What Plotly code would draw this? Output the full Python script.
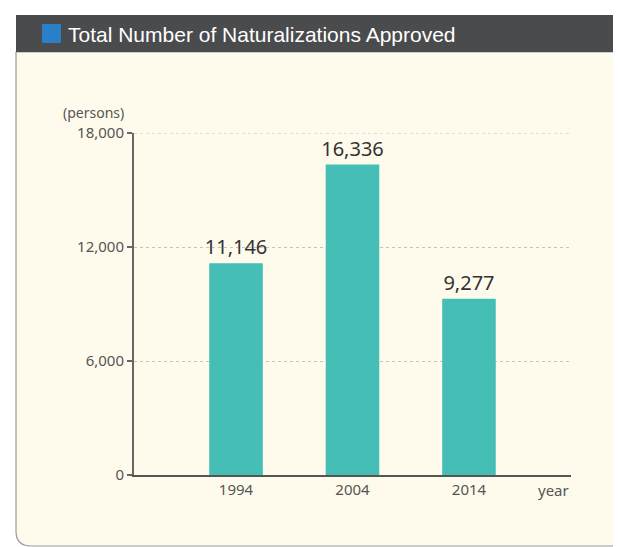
import plotly.graph_objects as go

years = ["1994", "2004", "2014"]
naturalizations = [11146, 16336, 9277]
y_ticks = [0, 6000, 12000, 18000]
y_tick_labels = ["0", "6,000", "12,000", "18,000"]
title_text = "Total Number of Naturalizations Approved"

OFF = 8  # page body margin
W, H = 621 - 2 * OFF, 547 - OFF
L, R, T, B = 134 - OFF, W - (571 - OFF), 133 - OFF, H - (475 - OFF)
pw, ph = W - L - R, H - T - B


def px(x):  # x in screenshot pixels -> paper
    return (x - OFF - L) / pw


def py(y):  # y in screenshot pixels -> paper
    return (H - B - (y - OFF)) / ph


fig = go.Figure()
fig.add_trace(go.Bar(
    x=years, y=naturalizations,
    marker=dict(color="#45bfb5", line=dict(width=0)),
    width=0.46,
    text=[f"{v:,}" for v in naturalizations],
    textposition="outside",
    constraintext="none",
    textfont=dict(size=20, color="#333333", family="Noto Sans"),
    cliponaxis=False,
    hoverinfo="skip",
))

lx, top, bot, rx = px(16), py(52), py(546), px(660)
rxr, ryr = 15 / pw, 15 / ph
panel_path = (f"M {lx},{top} L {lx},{bot + ryr} Q {lx},{bot} {lx + rxr},{bot} "
              f"L {rx},{bot} L {rx},{top} Z")
shapes = [
    dict(type="path", xref="paper", yref="paper", path=panel_path,
         fillcolor="#fffbec", line=dict(color="#9a9a9a", width=1.2), layer="below"),
    dict(type="rect", xref="paper", yref="paper", x0=px(16), x1=px(660),
         y0=py(52), y1=py(15), fillcolor="#4a4b4d", line=dict(width=0), layer="below"),
    dict(type="rect", xref="paper", yref="paper", x0=px(42), x1=px(61),
         y0=py(43), y1=py(24), fillcolor="#2a7fc9", line=dict(width=0), layer="below"),
    dict(type="line", xref="paper", yref="y", x0=0, x1=1,
         y0=y_ticks[-1], y1=y_ticks[-1],
         line=dict(color="#c4c4c4", width=1, dash="dot"), layer="below"),
]

annotations = [
    dict(text=title_text, xref="paper", yref="paper", x=px(66), y=py(34),
         xanchor="left", yanchor="middle", showarrow=False,
         font=dict(size=21, color="white", family="Liberation Sans")),
    dict(text="(persons)", xref="paper", yref="paper", x=px(126), y=py(112),
         xanchor="right", yanchor="middle", showarrow=False,
         font=dict(size=14, color="#555555", family="Noto Sans")),
    dict(text="year", xref="paper", yref="paper", x=px(553), y=py(490),
         xanchor="center", yanchor="middle", showarrow=False,
         font=dict(size=15, color="#555555", family="Noto Sans")),
]

fig.update_layout(
    width=W, height=H,
    margin=dict(l=L, r=R, t=T, b=B),
    paper_bgcolor="white",
    plot_bgcolor="rgba(0,0,0,0)",
    showlegend=False,
    shapes=shapes,
    annotations=annotations,
    xaxis=dict(
        type="category", range=[-0.876, 2.876],
        showline=True, linecolor="#555555", linewidth=1.5,
        ticks="", showgrid=False,
        tickfont=dict(size=15, color="#555555", family="Noto Sans"),
    ),
    yaxis=dict(
        range=[0, 18000], tickvals=y_ticks, ticktext=y_tick_labels,
        showline=True, linecolor="#666666", linewidth=2,
        ticks="outside", ticklen=5, tickcolor="#666666", tickwidth=2,
        showgrid=True, gridcolor="#c4c4c4", griddash="dot", gridwidth=1,
        zeroline=False,
        tickfont=dict(size=15, color="#555555", family="Noto Sans"),
    ),
)

fig.write_html("out.html")
